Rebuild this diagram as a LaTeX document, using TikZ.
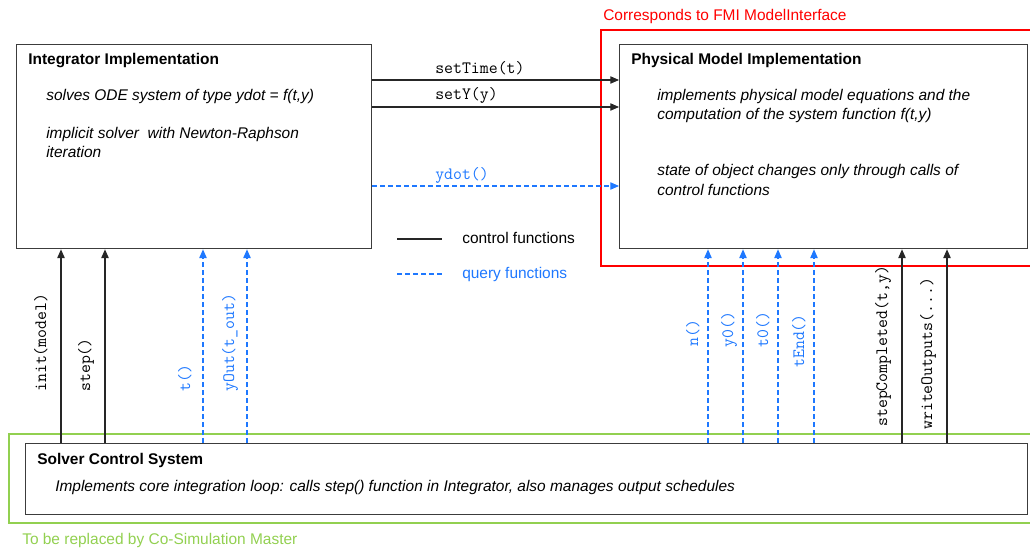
\documentclass[tikz,border=0pt]{standalone}
\usepackage{fontspec}
\setmainfont{Liberation Sans}
\usetikzlibrary{positioning,arrows.meta}
\definecolor{qblue}{RGB}{30,120,255}
\definecolor{fmired}{RGB}{255,0,0}
\definecolor{cosgreen}{RGB}{146,208,80}
\definecolor{boxgray}{RGB}{60,60,60}
\newcommand\px{0.75pt}

\begin{document}
\begin{tikzpicture}[x=0.75pt,y=-0.75pt,font=\fontsize{11.6}{14.25}\selectfont,
  >={Triangle[length=6.5pt,width=5.5pt]},
  blk/.style={draw=boxgray,line width=1pt,anchor=north west,inner sep=0pt},
  ttl/.style={anchor=base west,inner sep=0pt,font=\fontsize{11.6}{14.25}\selectfont\bfseries},
  desc/.style={anchor=base west,inner sep=0pt,align=left,font=\fontsize{11.6}{14.25}\selectfont\itshape},
  fn/.style={inner sep=0pt,font=\fontsize{13}{15}\selectfont\ttfamily},
  vfn/.style={fn,rotate=90,anchor=base west},
  ctrl/.style={->,line width=0.8pt,black!85},
  qry/.style={->,line width=0.8pt,qblue,dash pattern=on 3.5pt off 2.5pt}]
  \useasboundingbox (0,0) rectangle (1030,549);

  % groups
  \draw[fmired,line width=2.2pt] (601,30) rectangle (1036,266);
  \node[anchor=base west,inner sep=0pt,text=fmired] (fmilbl) at (603,21) {Corresponds to FMI ModelInterface};
  \draw[cosgreen,line width=2.2pt] (9,434) rectangle (1036,523);
  \node[anchor=base west,inner sep=0pt,text=cosgreen] (coslbl) at (22,544) {To be replaced by Co-Simulation Master};

  % blocks (multi-line text: base = last line)
  \node[blk,minimum width=355*\px,minimum height=204*\px] (integ) at (16,44) {};
  \node[ttl] (integttl) at (28,65) {Integrator Implementation};
  \node[desc] (integd1) at (46,101) {solves ODE system of type ydot = f(t,y)};
  \node[desc] (integd2) at (46,157) {implicit solver\ \ with Newton-Raphson\\iteration};

  \node[blk,minimum width=408*\px,minimum height=204*\px] (phys) at (619,44) {};
  \node[ttl] (physttl) at (631,65) {Physical Model Implementation};
  \node[desc] (physd1) at (657,120) {implements physical model equations and the\\computation of the system function f(t,y)};
  \node[desc] (physd2) at (657,195) {state of object changes only through calls of\\control functions};

  \node[blk,minimum width=1002*\px,minimum height=71*\px] (solver) at (25,443) {};
  \node[ttl] (solverttl) at (37,464) {Solver Control System};
  \node[desc] (solverd) at (55,491) {Implements core integration loop: calls step() function in Integrator, also manages output schedules};

  % integrator -> model
  \draw[ctrl] (integ.east |- 0,80) -- (phys.west |- 0,80);
  \node[fn,anchor=base west] (lsettime) at (435,74) {setTime(t)};
  \draw[ctrl] (integ.east |- 0,107) -- (phys.west |- 0,107);
  \node[fn,anchor=base west] (lsety) at (435,100) {setY(y)};
  \draw[qry] (integ.east |- 0,186) -- (phys.west |- 0,186);
  \node[fn,anchor=base west,text=qblue] (lydot) at (435,179) {ydot()};

  % legend
  \draw[line width=0.8pt,black!85] (397,239) -- (442,239);
  \node[anchor=base west,inner sep=0pt] (lgctrl) at (462,243) {control functions};
  \draw[line width=0.8pt,qblue,dash pattern=on 3.5pt off 2.5pt] (397,274) -- (442,274);
  \node[anchor=base west,inner sep=0pt,text=qblue] (lgqry) at (462,278) {query functions};

  % solver -> integrator
  \foreach \x/\l in {61/init(model), 105/step()} {
    \draw[ctrl] (solver.north -| \x,0) -- (integ.south -| \x,0);
    \node[vfn] at (\x-15,392) {\l};
  }
  \foreach \x/\l in {203/t(), 247/yOut(t\_out)} {
    \draw[qry] (solver.north -| \x,0) -- (integ.south -| \x,0);
    \node[vfn,text=qblue] at (\x-13,392) {\l};
  }

  % solver -> model
  \foreach \x/\y/\l in {708/347/n(), 743/348/y0(), 778/348/t0(), 814/368/tEnd()} {
    \draw[qry] (solver.north -| \x,0) -- (phys.south -| \x,0);
    \node[vfn,text=qblue] at (\x-10,\y) {\l};
  }
  \draw[ctrl] (solver.north -| 902,0) -- (phys.south -| 902,0);
  \node[vfn] (lstepc) at (887,427) {stepCompleted(t,y)};
  \draw[ctrl] (solver.north -| 947,0) -- (phys.south -| 947,0);
  \node[vfn] (lwrite) at (932,430) {writeOutputs(...)};
\end{tikzpicture}
\end{document}
